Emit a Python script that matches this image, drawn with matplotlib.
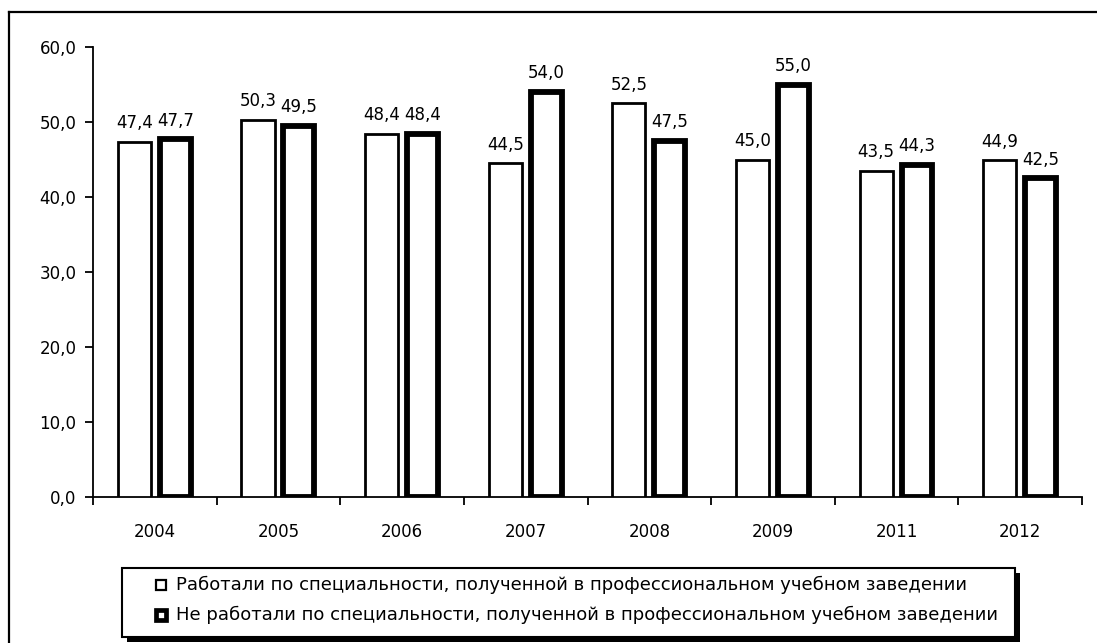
import matplotlib
matplotlib.use("Agg")
import matplotlib.pyplot as plt
from matplotlib.patches import Rectangle
from matplotlib.lines import Line2D
import numpy as np

years = ["2004", "2005", "2006", "2007", "2008", "2009", "2011", "2012"]
worked_in_field = [47.4, 50.3, 48.4, 44.5, 52.5, 45.0, 43.5, 44.9]
not_in_field = [47.7, 49.5, 48.4, 54.0, 47.5, 55.0, 44.3, 42.5]
series_names = [
    "Работали по специальности, полученной в профессиональном учебном заведении",
    "Не работали по специальности, полученной в профессиональном учебном заведении",
]
y_ticks = [0, 10, 20, 30, 40, 50, 60]

plt.rcParams["font.family"] = ["DejaVu Sans"]

W, H = 1097, 643
fig = plt.figure(figsize=(W / 100, H / 100), dpi=100)
ax = fig.add_axes([93 / W, 1 - 497 / H, (1082 - 93) / W, (497 - 47) / H])

x = np.arange(len(years))
bw = 0.28
gap = 0.05
edge_widths = [2.0, 4.2]


def fmt(v):
    return f"{v:.1f}".replace(".", ",")


b1 = ax.bar(x - (bw + gap) / 2, worked_in_field, width=bw - 0.012,
            facecolor="white", edgecolor="black", linewidth=edge_widths[0], zorder=3)
b2 = ax.bar(x + (bw + gap) / 2, not_in_field, width=bw - 0.03,
            facecolor="white", edgecolor="black", linewidth=edge_widths[1], zorder=3)

for bars, vals in ((b1, worked_in_field), (b2, not_in_field)):
    for r, v in zip(bars, vals):
        ax.annotate(fmt(v), (r.get_x() + r.get_width() / 2, v),
                    xytext=(0, 7), textcoords="offset points",
                    ha="center", va="bottom", fontsize=12)

ax.set_xlim(-0.5, len(years) - 0.5)
ax.set_ylim(0, 60)
ax.set_yticks(y_ticks)
ax.set_yticklabels([fmt(v) for v in y_ticks], fontsize=12)
ax.set_xticks(np.arange(len(years) + 1) - 0.5)
ax.set_xticklabels([])
ax.set_xticks(x, minor=True)
ax.set_xticklabels(years, minor=True, fontsize=12)
ax.tick_params(axis="x", which="minor", length=0, pad=19)
ax.tick_params(axis="x", which="major", length=6, width=1.3, direction="out")
ax.tick_params(axis="y", length=6, width=1.3, direction="out", pad=6)
for s in ("top", "right"):
    ax.spines[s].set_visible(False)
for s in ("left", "bottom"):
    ax.spines[s].set_linewidth(1.3)

# outer frame (left and top edges)
fig.add_artist(Line2D([9 / W, 9 / W], [0, 1 - 12 / H], transform=fig.transFigure,
                      color="black", lw=1.6))
fig.add_artist(Line2D([9 / W, 1], [1 - 12 / H, 1 - 12 / H], transform=fig.transFigure,
                      color="black", lw=1.6))

# legend box with a solid drop shadow
lx0, lx1, ly0, ly1 = 122, 1015, 568, 637
fig.add_artist(Rectangle(((lx0 + 5) / W, 1 - (ly1 + 5) / H), (lx1 - lx0) / W, (ly1 - ly0) / H,
                         transform=fig.transFigure, facecolor="black", edgecolor="none"))
fig.add_artist(Rectangle((lx0 / W, 1 - ly1 / H), (lx1 - lx0) / W, (ly1 - ly0) / H,
                         transform=fig.transFigure, facecolor="white", edgecolor="black",
                         linewidth=1.5))
row_y = [585, 615]
sq = 10
for name, yc, lw in zip(series_names, row_y, [1.6, 3.4]):
    fig.add_artist(Rectangle((156 / W, 1 - (yc + sq / 2) / H), sq / W, sq / H,
                             transform=fig.transFigure, facecolor="white",
                             edgecolor="black", linewidth=lw))
    fig.text(176 / W, 1 - yc / H, name, ha="left", va="center", fontsize=13)

fig.savefig("out.png", dpi=100, facecolor="white")
